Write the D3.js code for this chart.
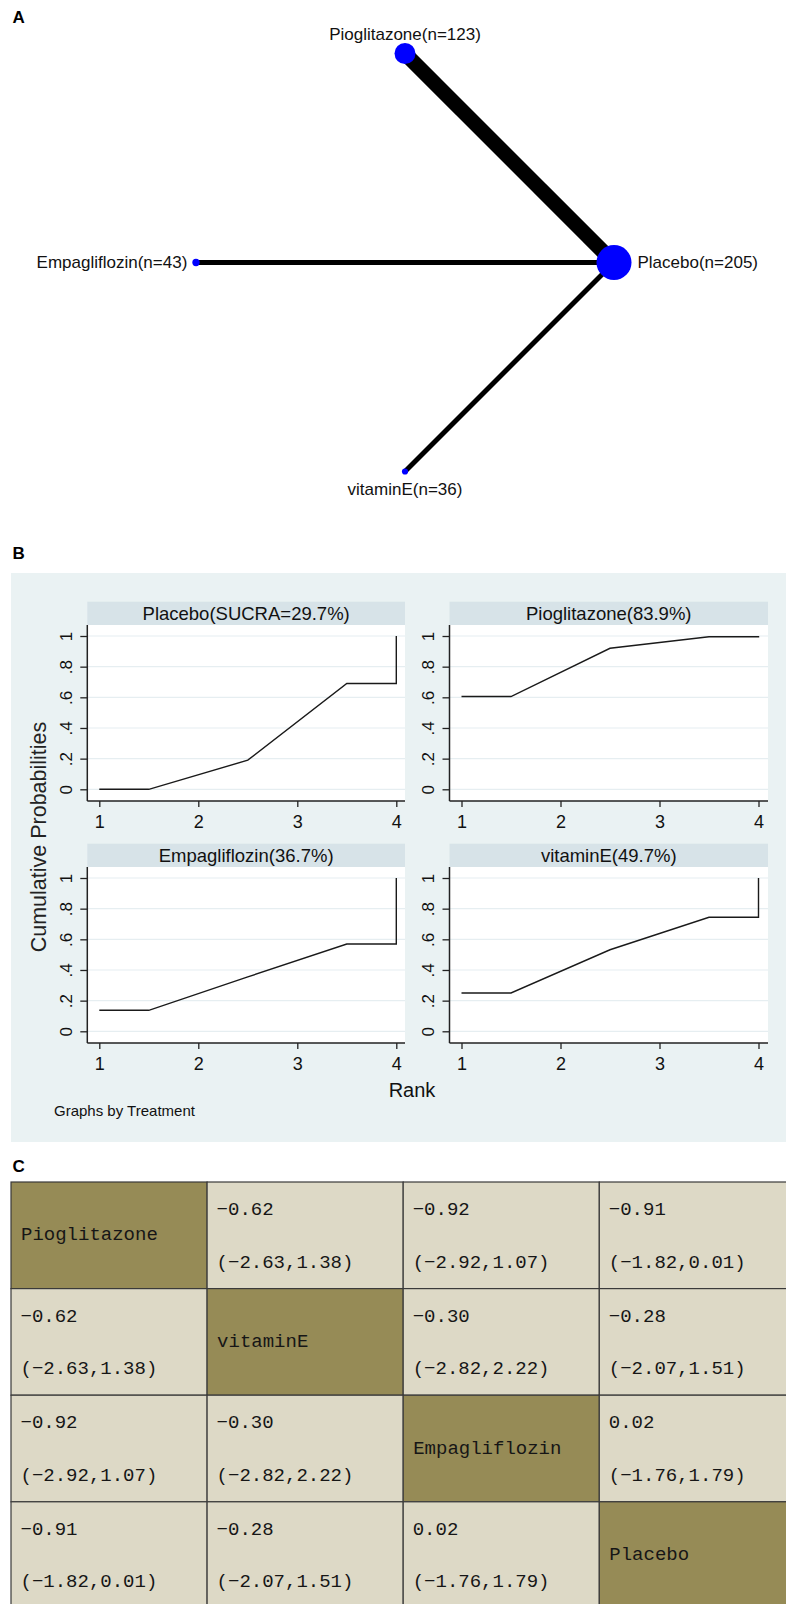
<!DOCTYPE html>
<html><head><meta charset="utf-8">
<script src="https://cdn.jsdelivr.net/npm/d3@7"></script>
<style>
html,body{margin:0;padding:0;background:#fff;}
svg{display:block;font-family:"Liberation Sans",Arial,sans-serif;}
</style>
</head><body>
<svg id="chart" width="786" height="1604"></svg>
<script>
// ---------- Panel A: network ----------
const nodeNames = ["Placebo", "Pioglitazone", "Empagliflozin", "vitaminE"];
const nodeSizes = [205, 123, 43, 36];
const edgeFrom = ["Pioglitazone", "Empagliflozin", "vitaminE"];
const edgeTo = ["Placebo", "Placebo", "Placebo"];
const edgeStudies = [3, 1, 1];

// ---------- Panel B: cumulative rank probabilities ----------
const treatments = ["Placebo", "Pioglitazone", "Empagliflozin", "vitaminE"];
const stripTitles = ["Placebo(SUCRA=29.7%)", "Pioglitazone(83.9%)", "Empagliflozin(36.7%)", "vitaminE(49.7%)"];
const ranks = [1, 2, 3, 4];
const cumPlacebo = [0.00, 0.19, 0.69, 1.00];
const cumPioglitazone = [0.605, 0.92, 0.995, 1.00];
const cumEmpagliflozin = [0.137, 0.355, 0.569, 1.00];
const cumVitaminE = [0.25, 0.532, 0.744, 1.00];
const yTicks = [0, 0.2, 0.4, 0.6, 0.8, 1];
const yTickLabels = ["0", ".2", ".4", ".6", ".8", "1"];
const xTicks = [1, 2, 3, 4];

// ---------- Panel C: league table ----------
const leagueOrder = ["Pioglitazone", "vitaminE", "Empagliflozin", "Placebo"];
const leagueEst = [[null, -0.62, -0.92, -0.91], [-0.62, null, -0.30, -0.28], [-0.92, -0.30, null, 0.02], [-0.91, -0.28, 0.02, null]];
const leagueLo = [[null, -2.63, -2.92, -1.82], [-2.63, null, -2.82, -2.07], [-2.92, -2.82, null, -1.76], [-1.82, -2.07, -1.76, null]];
const leagueHi = [[null, 1.38, 1.07, 0.01], [1.38, null, 2.22, 1.51], [1.07, 2.22, null, 1.79], [0.01, 1.51, 1.79, null]];

const svg = d3.select("#chart");

// Panel letters
[["A", 17], ["B", 553], ["C", 1166]].forEach(([t, y]) => {
  svg.append("text").attr("x", 12.5).attr("y", y).attr("dominant-baseline", "central")
    .attr("font-size", 17).attr("font-weight", "bold").attr("fill", "#000").text(t);
});

// ===== Panel A =====
(function () {
  const cx = 405, cy = 262.5, R = 209;
  const ang = d3.scaleLinear().domain([0, nodeNames.length]).range([0, 2 * Math.PI]);
  const rScale = d3.scaleLinear().domain([0, 205]).range([0, 17.5]);
  const wScale = d3.scaleLinear().domain([0, 3]).range([0, 15]);
  const pos = {};
  nodeNames.forEach((n, i) => {
    const a = ang(i);
    pos[n] = { x: cx + R * Math.cos(a), y: cy - R * Math.sin(a), r: rScale(nodeSizes[i]), c: Math.cos(a), s: Math.sin(a), n: nodeSizes[i] };
  });
  const g = svg.append("g");
  g.selectAll("line").data(edgeFrom.map((f, i) => ({ f, t: edgeTo[i], w: edgeStudies[i] })))
    .join("line")
    .attr("x1", d => pos[d.f].x).attr("y1", d => pos[d.f].y)
    .attr("x2", d => pos[d.t].x).attr("y2", d => pos[d.t].y)
    .attr("stroke", "#000").attr("stroke-width", d => wScale(d.w));
  g.selectAll("circle").data(nodeNames).join("circle")
    .attr("cx", d => pos[d].x).attr("cy", d => pos[d].y).attr("r", d => pos[d].r)
    .attr("fill", "#0000ff");
  g.selectAll("text").data(nodeNames).join("text")
    .attr("font-size", 17).attr("fill", "#111").attr("dominant-baseline", "central")
    .each(function (d) {
      const p = pos[d], t = d3.select(this);
      if (p.c > 0.5) t.attr("x", p.x + p.r + 6).attr("y", p.y).attr("text-anchor", "start");
      else if (p.c < -0.5) t.attr("x", p.x - p.r - 5).attr("y", p.y).attr("text-anchor", "end");
      else if (p.s > 0) t.attr("x", p.x).attr("y", p.y - p.r - 9).attr("text-anchor", "middle");
      else t.attr("x", p.x).attr("y", p.y + p.r + 15).attr("text-anchor", "middle");
    })
    .text(d => `${d}(n=${pos[d].n})`);
})();

// ===== Panel B =====
(function () {
  const bg = "#eaf2f3", stripFill = "#d7e3e8", gridCol = "#e6eef1";
  svg.append("rect").attr("x", 11).attr("y", 573).attr("width", 786 - 11).attr("height", 1142 - 573).attr("fill", bg);
  const cumData = [cumPlacebo, cumPioglitazone, cumEmpagliflozin, cumVitaminE];
  const colLeft = [87.3, 449.5], colRight = [405, 768];
  const rowTop = [601.7, 843.7];
  const stripH = 23.3, plotH = 176;
  treatments.forEach((tr, i) => {
    const col = i % 2, row = Math.floor(i / 2);
    const L = colLeft[col], Rr = colRight[col], T = rowTop[row];
    const pT = T + stripH, pB = pT + plotH;
    const x = d3.scaleLinear().domain([1, 4]).range([L + 12, L + 309]);
    const y = d3.scaleLinear().domain([0, 1]).range([pT + 164.3, pT + 11]);
    const g = svg.append("g");
    g.append("rect").attr("x", L).attr("y", T).attr("width", Rr - L).attr("height", stripH).attr("fill", stripFill);
    g.append("text").attr("x", (L + Rr) / 2).attr("y", T + stripH / 2 + 0.5).attr("text-anchor", "middle")
      .attr("dominant-baseline", "central").attr("font-size", 18.5).attr("fill", "#111").text(stripTitles[i]);
    g.append("rect").attr("x", L).attr("y", pT).attr("width", Rr - L).attr("height", plotH).attr("fill", "#fff");
    g.selectAll(".grid").data(yTicks).join("line").attr("class", "grid")
      .attr("x1", L).attr("x2", Rr).attr("y1", d => y(d)).attr("y2", d => y(d))
      .attr("stroke", gridCol).attr("stroke-width", 1.2);
    // y axis
    const ya = g.append("g").attr("transform", `translate(${L},0)`)
      .call(d3.axisLeft(y).tickValues(yTicks).tickFormat((d, k) => yTickLabels[k]).tickSize(7).tickSizeOuter(0).tickPadding(0));
    ya.select(".domain").remove();
    ya.selectAll(".tick line").attr("stroke", "#222").attr("stroke-width", 1.3);
    ya.selectAll(".tick text").attr("font-size", 17).attr("fill", "#111").attr("font-family", "Liberation Sans, Arial, sans-serif")
      .attr("x", null).attr("dy", null).attr("text-anchor", "middle").attr("dominant-baseline", "central")
      .attr("transform", "translate(-21,0) rotate(-90)");
    g.append("line").attr("x1", L).attr("x2", L).attr("y1", pT).attr("y2", pB).attr("stroke", "#222").attr("stroke-width", 1.5);
    // x axis
    const xa = g.append("g").attr("transform", `translate(0,${pB})`)
      .call(d3.axisBottom(x).tickValues(xTicks).tickFormat(d3.format("d")).tickSize(6).tickSizeOuter(0).tickPadding(0));
    xa.select(".domain").remove();
    xa.selectAll(".tick line").attr("stroke", "#222").attr("stroke-width", 1.3);
    xa.selectAll(".tick text").attr("font-size", 18).attr("fill", "#111").attr("font-family", "Liberation Sans, Arial, sans-serif")
      .attr("dy", null).attr("y", 21).attr("dominant-baseline", "central");
    g.append("line").attr("x1", L).attr("x2", Rr).attr("y1", pB).attr("y2", pB).attr("stroke", "#222").attr("stroke-width", 1.5);
    // curve
    const c = cumData[i];
    const pts = [[ranks[0], c[0]], [ranks[0] + 0.5, c[0]], [ranks[1] + 0.5, c[1]], [ranks[2] + 0.5, c[2]], [ranks[3], c[2]], [ranks[3], c[3]]];
    g.append("path").attr("d", d3.line().x(d => x(d[0])).y(d => y(d[1]))(pts))
      .attr("fill", "none").attr("stroke", "#1a1a1a").attr("stroke-width", 1.4);
  });
  svg.append("text").attr("transform", "translate(39,837) rotate(-90)").attr("text-anchor", "middle")
    .attr("dominant-baseline", "central").attr("font-size", 21.5).attr("fill", "#222").text("Cumulative Probabilities");
  svg.append("text").attr("x", 412).attr("y", 1090).attr("text-anchor", "middle")
    .attr("dominant-baseline", "central").attr("font-size", 20).attr("fill", "#111").text("Rank");
  svg.append("text").attr("x", 54).attr("y", 1110).attr("dominant-baseline", "central")
    .attr("font-size", 15).attr("fill", "#111").text("Graphs by Treatment");
})();

// ===== Panel C =====
(function () {
  const idx = d3.range(leagueOrder.length);
  const xb = d3.scaleBand().domain(idx).range([11, 11 + 4 * 196.1]);
  const yb = d3.scaleBand().domain(idx).range([1182, 1182 + 4 * 106.6]);
  const fmt = v => d3.format(".2f")(v).replace("-", "\u2212");
  const cells = [];
  idx.forEach(r => idx.forEach(c => cells.push({ r, c })));
  const g = svg.append("g").attr("font-family", "Liberation Mono, monospace").attr("font-size", 19).attr("fill", "#161616");
  g.selectAll("rect").data(cells).join("rect")
    .attr("x", d => xb(d.c)).attr("y", d => yb(d.r)).attr("width", xb.bandwidth()).attr("height", yb.bandwidth())
    .attr("fill", d => d.r === d.c ? "#968b56" : "#ddd9c6").attr("stroke", "#3a3a3a").attr("stroke-width", 1.2);
  cells.forEach(d => {
    const x0 = xb(d.c), y0 = yb(d.r);
    if (d.r === d.c) {
      g.append("text").attr("x", x0 + 10).attr("y", y0 + yb.bandwidth() / 2).attr("dominant-baseline", "central").text(leagueOrder[d.r]);
    } else {
      g.append("text").attr("x", x0 + 9.5).attr("y", y0 + 28).attr("dominant-baseline", "central").text(fmt(leagueEst[d.r][d.c]));
      g.append("text").attr("x", x0 + 9.5).attr("y", y0 + 80.5).attr("dominant-baseline", "central")
        .text(`(${fmt(leagueLo[d.r][d.c])},${fmt(leagueHi[d.r][d.c])})`);
    }
  });
})();
</script>
</body></html>
